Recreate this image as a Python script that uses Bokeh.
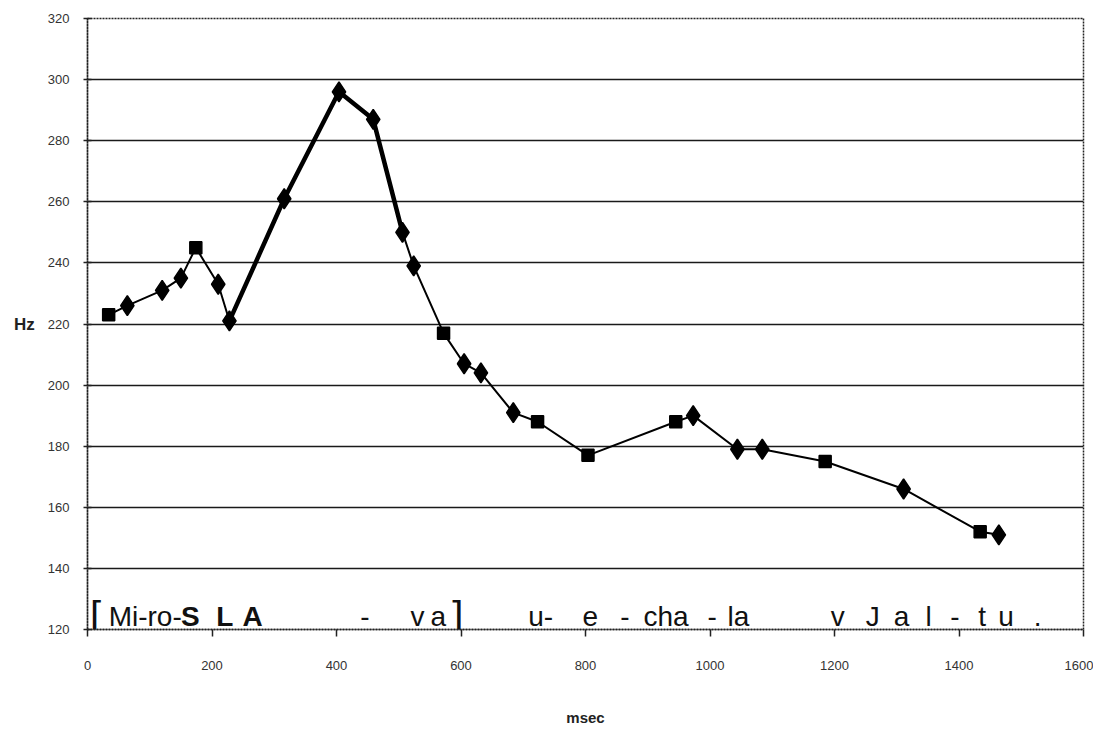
from bokeh.plotting import figure
from bokeh.models import Range1d, ColumnDataSource, FixedTicker
from bokeh.core.properties import value
from bokeh.embed import file_html
from bokeh.resources import INLINE

# ---- data ----
time_ms = [34, 64, 120, 150, 174, 210, 228, 316, 404, 459, 506, 524, 572,
           605, 632, 684, 723, 804, 945, 973, 1044, 1084, 1185, 1311, 1434, 1464]
f0_hz = [223, 226, 231, 235, 245, 233, 221, 261, 296, 287, 250, 239, 217,
         207, 204, 191, 188, 177, 188, 190, 179, 179, 175, 166, 152, 151]
marker_kind = ["square", "diamond", "diamond", "diamond", "square", "diamond",
               "diamond", "diamond", "diamond", "diamond", "diamond", "diamond",
               "square", "diamond", "diamond", "diamond", "square", "square",
               "square", "diamond", "diamond", "diamond", "square", "diamond",
               "square", "diamond"]
stressed_idx = [6, 7, 8, 9, 10]

x_ticks = [0, 200, 400, 600, 800, 1000, 1200, 1400, 1600]
y_ticks = [120, 140, 160, 180, 200, 220, 240, 260, 280, 300, 320]

# transcription pieces (text, x position in ms, bold?)
syll_text = ["Mi-ro-", "S", "L", "A", "-", "v", "a", "u-", "e", "-", "cha", "-", "la",
             "v", "J", "a", "l", "-", "t", "u", "."]
syll_x = [34, 150, 207, 249, 438, 519, 551, 708, 795, 856, 893, 996, 1028,
          1194, 1250, 1295, 1346, 1386, 1431, 1463, 1520]
syll_bold = [False, True, True, True, False, False, False, False, False, False, False,
             False, False, False, False, False, False, False, False, False, False]
bracket_text = ["[", "]"]
bracket_x = [4, 586]
text_baseline_hz = 124.3

FONT = "Liberation Sans"
MARKER_SIZE = {"square": 12, "diamond": 20}

p = figure(width=1093, height=728, x_range=Range1d(0, 1600), y_range=Range1d(120, 320),
           output_backend="svg", toolbar_location=None,
           min_border_left=87, min_border_top=18, min_border_right=10, min_border_bottom=98)

p.background_fill_color = "white"
p.border_fill_color = "white"
p.outline_line_color = "#222222"
p.outline_line_dash = "2 1"
p.outline_line_width = 1.5

p.xgrid.visible = False
p.ygrid.grid_line_color = "#1a1a1a"
p.ygrid.grid_line_width = 1.6
p.ygrid.ticker = FixedTicker(ticks=y_ticks)

p.xaxis.ticker = FixedTicker(ticks=x_ticks)
p.yaxis.ticker = FixedTicker(ticks=y_ticks)
for ax in (p.xaxis[0], p.yaxis[0]):
    ax.axis_line_color = "#222222"
    ax.axis_line_dash = "2 1"
    ax.axis_line_width = 1.5
    ax.major_tick_line_color = "#222222"
    ax.major_tick_line_width = 1.5
    ax.minor_tick_line_color = None
    ax.major_label_text_font = FONT
    ax.major_label_text_font_size = "13px"
    ax.major_label_text_color = "#333333"
    ax.axis_label_text_font = FONT
    ax.axis_label_text_font_style = "bold"
    ax.axis_label_text_color = "#222222"

p.xaxis.major_tick_in = 0
p.xaxis.major_tick_out = 7
p.xaxis.major_label_standoff = 24
p.xaxis.axis_label = "msec"
p.xaxis.axis_label_text_font_size = "15px"
p.xaxis.axis_label_standoff = 36

p.yaxis.major_tick_in = 4
p.yaxis.major_tick_out = 4
p.yaxis.major_label_standoff = 14
p.yaxis.axis_label = "Hz"
p.yaxis.axis_label_orientation = "horizontal"
p.yaxis.axis_label_text_font_size = "17px"
p.yaxis.axis_label_standoff = 10

src = ColumnDataSource(dict(t=time_ms, f=f0_hz, m=marker_kind,
                            sz=[MARKER_SIZE[k] for k in marker_kind]))
p.line("t", "f", source=src, line_color="black", line_width=2)
stressed = ColumnDataSource(dict(t=[time_ms[i] for i in stressed_idx],
                                 f=[f0_hz[i] for i in stressed_idx]))
p.line("t", "f", source=stressed, line_color="black", line_width=4.5)
p.scatter("t", "f", source=src, marker="m", size="sz", fill_color="black",
          line_color="black", line_width=1.5)

normal = ColumnDataSource(dict(x=[x for x, b in zip(syll_x, syll_bold) if not b],
                               y=[text_baseline_hz] * sum(1 for b in syll_bold if not b),
                               s=[s for s, b in zip(syll_text, syll_bold) if not b]))
bold = ColumnDataSource(dict(x=[x for x, b in zip(syll_x, syll_bold) if b],
                             y=[text_baseline_hz] * sum(1 for b in syll_bold if b),
                             s=[s for s, b in zip(syll_text, syll_bold) if b]))
p.text("x", "y", text="s", source=normal, text_font=value(FONT), text_font_size="28px",
       text_color="#111111", text_baseline="alphabetic", text_align="left")
p.text("x", "y", text="s", source=bold, text_font=value(FONT), text_font_size="28px",
       text_font_style="bold", text_color="#111111", text_baseline="alphabetic", text_align="left")
br = ColumnDataSource(dict(x=bracket_x, y=[text_baseline_hz] * len(bracket_x), s=bracket_text))
p.text("x", "y", text="s", source=br, text_font=value(FONT), text_font_size="40px",
       text_color="#111111", text_baseline="alphabetic", text_align="left")

open("out.html", "w").write(file_html(p, INLINE))
